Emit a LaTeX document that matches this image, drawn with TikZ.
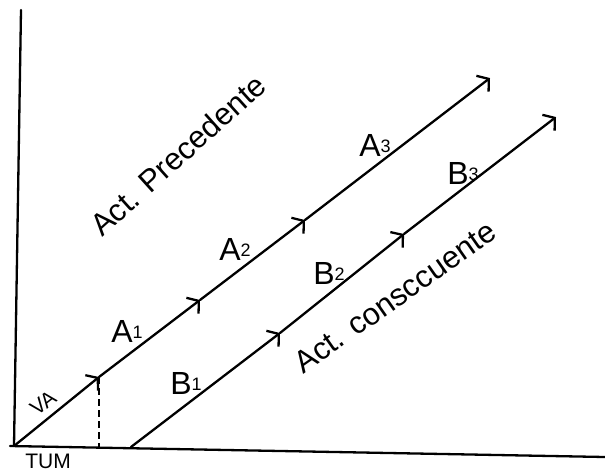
\documentclass[tikz,border=0pt]{standalone}
\usepackage{fontspec}
\setmainfont{Liberation Sans}
\usetikzlibrary{arrows.meta}
\newcommand\sublab[2]{#1\raisebox{0.12em}{\fontsize{18}{18}\selectfont #2}}
\begin{document}
\begin{tikzpicture}[x=1pt,y=-1pt,
  ln/.style={line width=2.3pt, line cap=round},
  arr/.style={ln,-{Straight Barb[length=8pt,width=20pt,line width=2.3pt]}},
  lbl/.style={font=\fontsize{32}{32}\selectfont, inner sep=0pt},
  small/.style={font=\fontsize{21}{21}\selectfont, inner sep=0pt},
  big/.style={font=\fontsize{31}{31}\selectfont, inner sep=0pt}]
\useasboundingbox (0,0) rectangle (605,474);
% axes
\coordinate (ytop) at (21,10);
\coordinate (O) at (14,446);
\coordinate (xl) at (10,446);
\coordinate (xr) at (605,457);
\draw[ln] (ytop) -- (O);
\draw[ln] (xl) -- (xr);
% line A
\coordinate (a1) at (99,377);
\coordinate (a2) at (200,300);
\coordinate (a3) at (305,220);
\coordinate (aE) at (490,78);
\draw[arr] (O) -- (a1);
\draw[arr] (a1) -- (a2);
\draw[arr] (a2) -- (a3);
\draw[arr] (a3) -- (aE);
% dashed
\coordinate (d0) at (99,447);
\draw[ln, line cap=butt, dash pattern=on 7pt off 4pt] (a1) -- (d0);
% line B
\coordinate (b0) at (131,447);
\coordinate (b1) at (280,333);
\coordinate (b2) at (404,234);
\coordinate (bE) at (556,117);
\draw[arr] (b0) -- (b1);
\draw[arr] (b1) -- (b2);
\draw[arr] (b2) -- (bE);
% labels
\node[small, rotate=38] (va) at (43,403) {VA};
\node[small] (tum) at (48,461) {TUM};
\node[lbl] (la1) at (127,331) {\sublab{A}{1}};
\node[lbl] (la2) at (235,249) {\sublab{A}{2}};
\node[lbl] (la3) at (375,145) {\sublab{A}{3}};
\node[lbl] (lb1) at (186,383) {\sublab{B}{1}};
\node[lbl] (lb2) at (329,273) {\sublab{B}{2}};
\node[lbl] (lb3) at (463,173) {\sublab{B}{3}};
\node[big, rotate=42] (prec) at (178,155) {Act. Precedente};
\node[big, rotate=35] (cons) at (395,297) {Act. consccuente};
\end{tikzpicture}
\end{document}
